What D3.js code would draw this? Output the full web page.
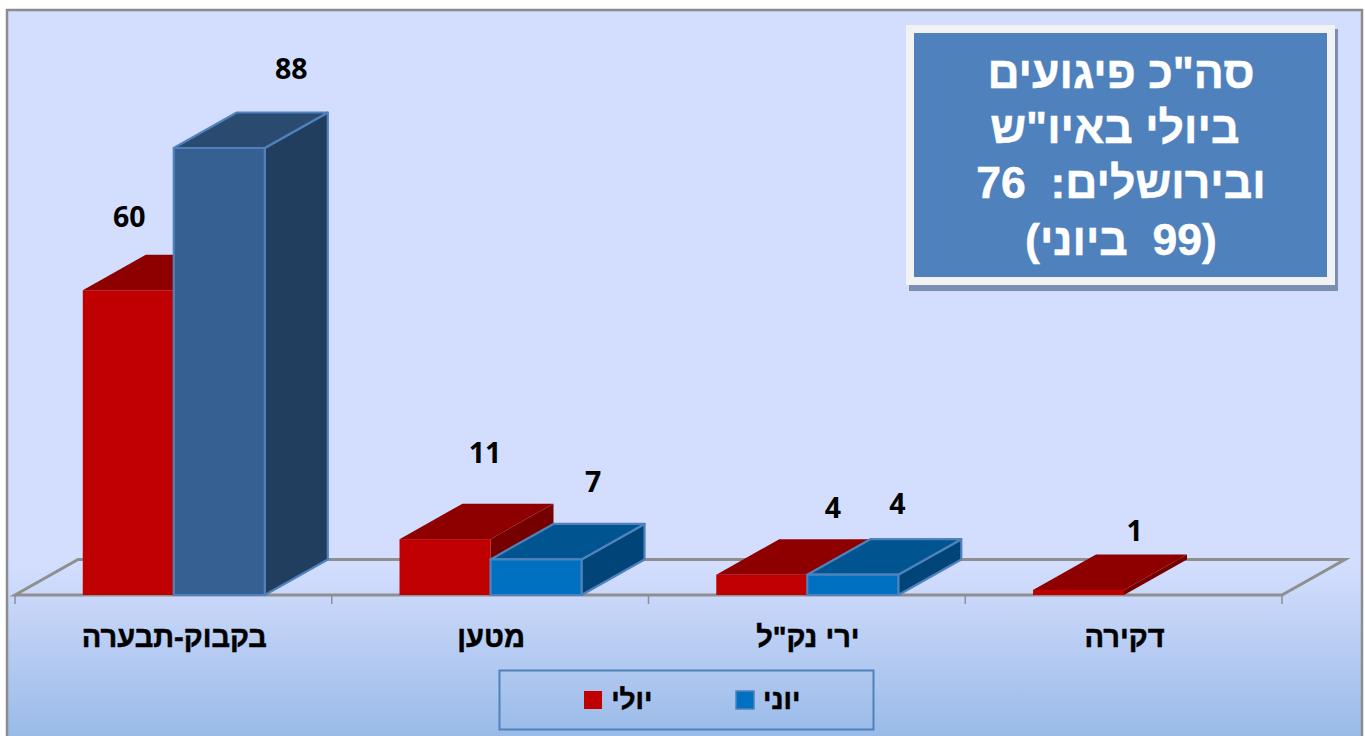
<!DOCTYPE html>
<html lang="he">
<head>
<meta charset="utf-8">
<script src="https://cdn.jsdelivr.net/npm/d3@7"></script>
<style>
html,body{margin:0;padding:0;background:#fff;overflow:hidden}
svg{display:block}
text{font-family:"Liberation Sans",Arial,sans-serif}
</style>
</head>
<body>
<svg id="c" width="1365" height="736"></svg>
<script>
const categories = ["בקבוק-תבערה", "מטען", "ירי נק\"ל", "דקירה"];
const julyValues = [60, 11, 4, 1];
const juneValues = [88, 7, 4, null];
const seriesNames = ["יולי", "יוני"];
const boxLines = ["סה\"כ פיגועים", " ביולי באיו\"ש", "ובירושלים:  76", "(99  ביוני)"];

const W = 1365, H = 736;
const svg = d3.select("#c");
const defs = svg.append("defs");
const grad = defs.append("linearGradient").attr("id","bg").attr("x1",0).attr("y1",0).attr("x2",0).attr("y2",1);
grad.append("stop").attr("offset","0").attr("stop-color","#d3defe");
grad.append("stop").attr("offset","0.76").attr("stop-color","#d3defe");
grad.append("stop").attr("offset","0.87").attr("stop-color","#b9cdf3");
grad.append("stop").attr("offset","1").attr("stop-color","#98bae7");

svg.append("rect").attr("x",7).attr("y",10).attr("width",1355).attr("height",730)
  .attr("fill","url(#bg)").attr("stroke","#8c8c8c").attr("stroke-width",2.5);

const x0 = d3.scaleBand().domain(categories).range([15,1282]);
const x1 = d3.scaleBand().domain(seriesNames).range([0,182]);
const y = d3.scaleLinear().domain([0,88]).range([595,148]);
const dx = 63, dy = -35.5;
const groupOffset = (x0.bandwidth()-182)/2 + 0.4;

// floor
const axisColor = "#8f8f8f";
const [ax0, ax1] = x0.range();
const by = y(0);
svg.append("path").attr("fill","none").attr("stroke",axisColor).attr("stroke-width",3)
  .attr("stroke-linejoin","miter")
  .attr("d",`M${ax0},${by}L${ax0+dx},${by+dy}L${ax1+dx},${by+dy}L${ax1},${by}Z`);
svg.append("g").selectAll("line").data(categories.concat(["__end"])).join("line")
  .attr("x1",(d,i)=>ax0+i*x0.bandwidth()).attr("x2",(d,i)=>ax0+i*x0.bandwidth())
  .attr("y1",by).attr("y2",by+9).attr("stroke",axisColor).attr("stroke-width",1.5);

// bars
const juneStyle = (i)=> i===0
  ? {front:"#366092",top:"#2b4a70",side:"#213e5f",stroke:"#4f81bd"}
  : {front:"#0070c0",top:"#005590",side:"#004478",stroke:"#4f81bd"};
const julyStyle = ()=>({front:"#c00000",top:"#8e0000",side:"#750000",stroke:null});

function bar3d(g, left, width, value, st){
  const t = y(value), r = left+width;
  const common = s=>{ if(st.stroke) s.attr("stroke",st.stroke).attr("stroke-width",2.2).attr("stroke-linejoin","round"); return s; };
  common(g.append("path").attr("fill",st.side).attr("d",`M${r},${by}L${r+dx},${by+dy}L${r+dx},${t+dy}L${r},${t}Z`));
  common(g.append("path").attr("fill",st.top).attr("d",`M${left},${t}L${left+dx},${t+dy}L${r+dx},${t+dy}L${r},${t}Z`));
  common(g.append("rect").attr("x",left).attr("y",t).attr("width",width).attr("height",by-t).attr("fill",st.front));
}
const barsG = svg.append("g");
categories.forEach((c,i)=>{
  const g = barsG.append("g");
  const base = x0(c)+groupOffset;
  bar3d(g, base+x1(seriesNames[0]), x1.bandwidth(), julyValues[i], julyStyle());
  if(juneValues[i]!=null) bar3d(g, base+x1(seriesNames[1]), x1.bandwidth(), juneValues[i], juneStyle(i));
});

// value labels (manually placed in the original)
const julyLabelShift = [[-44,-74],[-5,-87],[26,-68],[11,-60]];
const juneLabelShift = [[118,-80],[103,-78],[90.5,-72],null];
function labels(vals, shifts){
  vals.forEach((v,i)=>{
    if(v==null) return;
    svg.append("text").attr("x",x0(categories[i])+x0.bandwidth()/2+shifts[i][0])
      .attr("y",y(v)+shifts[i][1])
      .attr("text-anchor","middle").attr("dominant-baseline","central")
      .style("font-family","'Open Sans'")
      .attr("font-size",28.5).attr("font-weight",700).attr("fill","#000").text(v);
  });
}
labels(julyValues, julyLabelShift);
labels(juneValues, juneLabelShift);

// category labels
svg.append("g").selectAll("text").data(categories).join("text")
  .attr("x",d=>x0(d)+x0.bandwidth()/2+1).attr("y",637)
  .attr("text-anchor","middle").attr("dominant-baseline","central")
  .attr("direction","rtl")
  .attr("font-size",29).attr("font-weight",700).attr("fill","#000")
  .attr("stroke","#000").attr("stroke-width",0.5)
  .text(d=>d);

// legend
svg.append("rect").attr("x",499.5).attr("y",670.5).attr("width",374).attr("height",59)
  .attr("fill","none").attr("stroke","#4f81bd").attr("stroke-width",2);
const legendSwatchX = [584, 736], legendTextX = [652.5, 800.5];
seriesNames.forEach((n,i)=>{
  const st = i===0 ? julyStyle() : juneStyle(1);
  const r = svg.append("rect").attr("x",legendSwatchX[i]).attr("y",691).attr("width",18).attr("height",18).attr("fill",st.front);
  if(st.stroke) r.attr("stroke",st.stroke).attr("stroke-width",1.5);
  svg.append("text").attr("x",legendTextX[i]).attr("y",699).attr("text-anchor","start")
    .attr("direction","rtl").attr("dominant-baseline","central")
    .attr("font-size",28).attr("font-weight",700).attr("fill","#000")
    .attr("stroke","#000").attr("stroke-width",0.5).text(n);
});

// text box
svg.append("rect").attr("x",909).attr("y",29).attr("width",429).attr("height",262).attr("fill","#7b8db0");
svg.append("rect").attr("x",906).attr("y",25).attr("width",429).attr("height",260).attr("fill","#f2f2f2");
svg.append("rect").attr("x",914).attr("y",33).attr("width",413).attr("height",244).attr("fill","#4f81bd");
const lineY = [72,127,182,239];
svg.append("g").selectAll("text").data(boxLines).join("text")
  .attr("x",1121).attr("y",(d,i)=>lineY[i])
  .attr("text-anchor","middle").attr("dominant-baseline","central")
  .attr("direction","rtl").style("white-space","pre")
  .attr("font-size",44.5).attr("font-weight",700).attr("fill","#fff")
  .attr("stroke","#fff").attr("stroke-width",0.5)
  .text(d=>d);
</script>
</body>
</html>
